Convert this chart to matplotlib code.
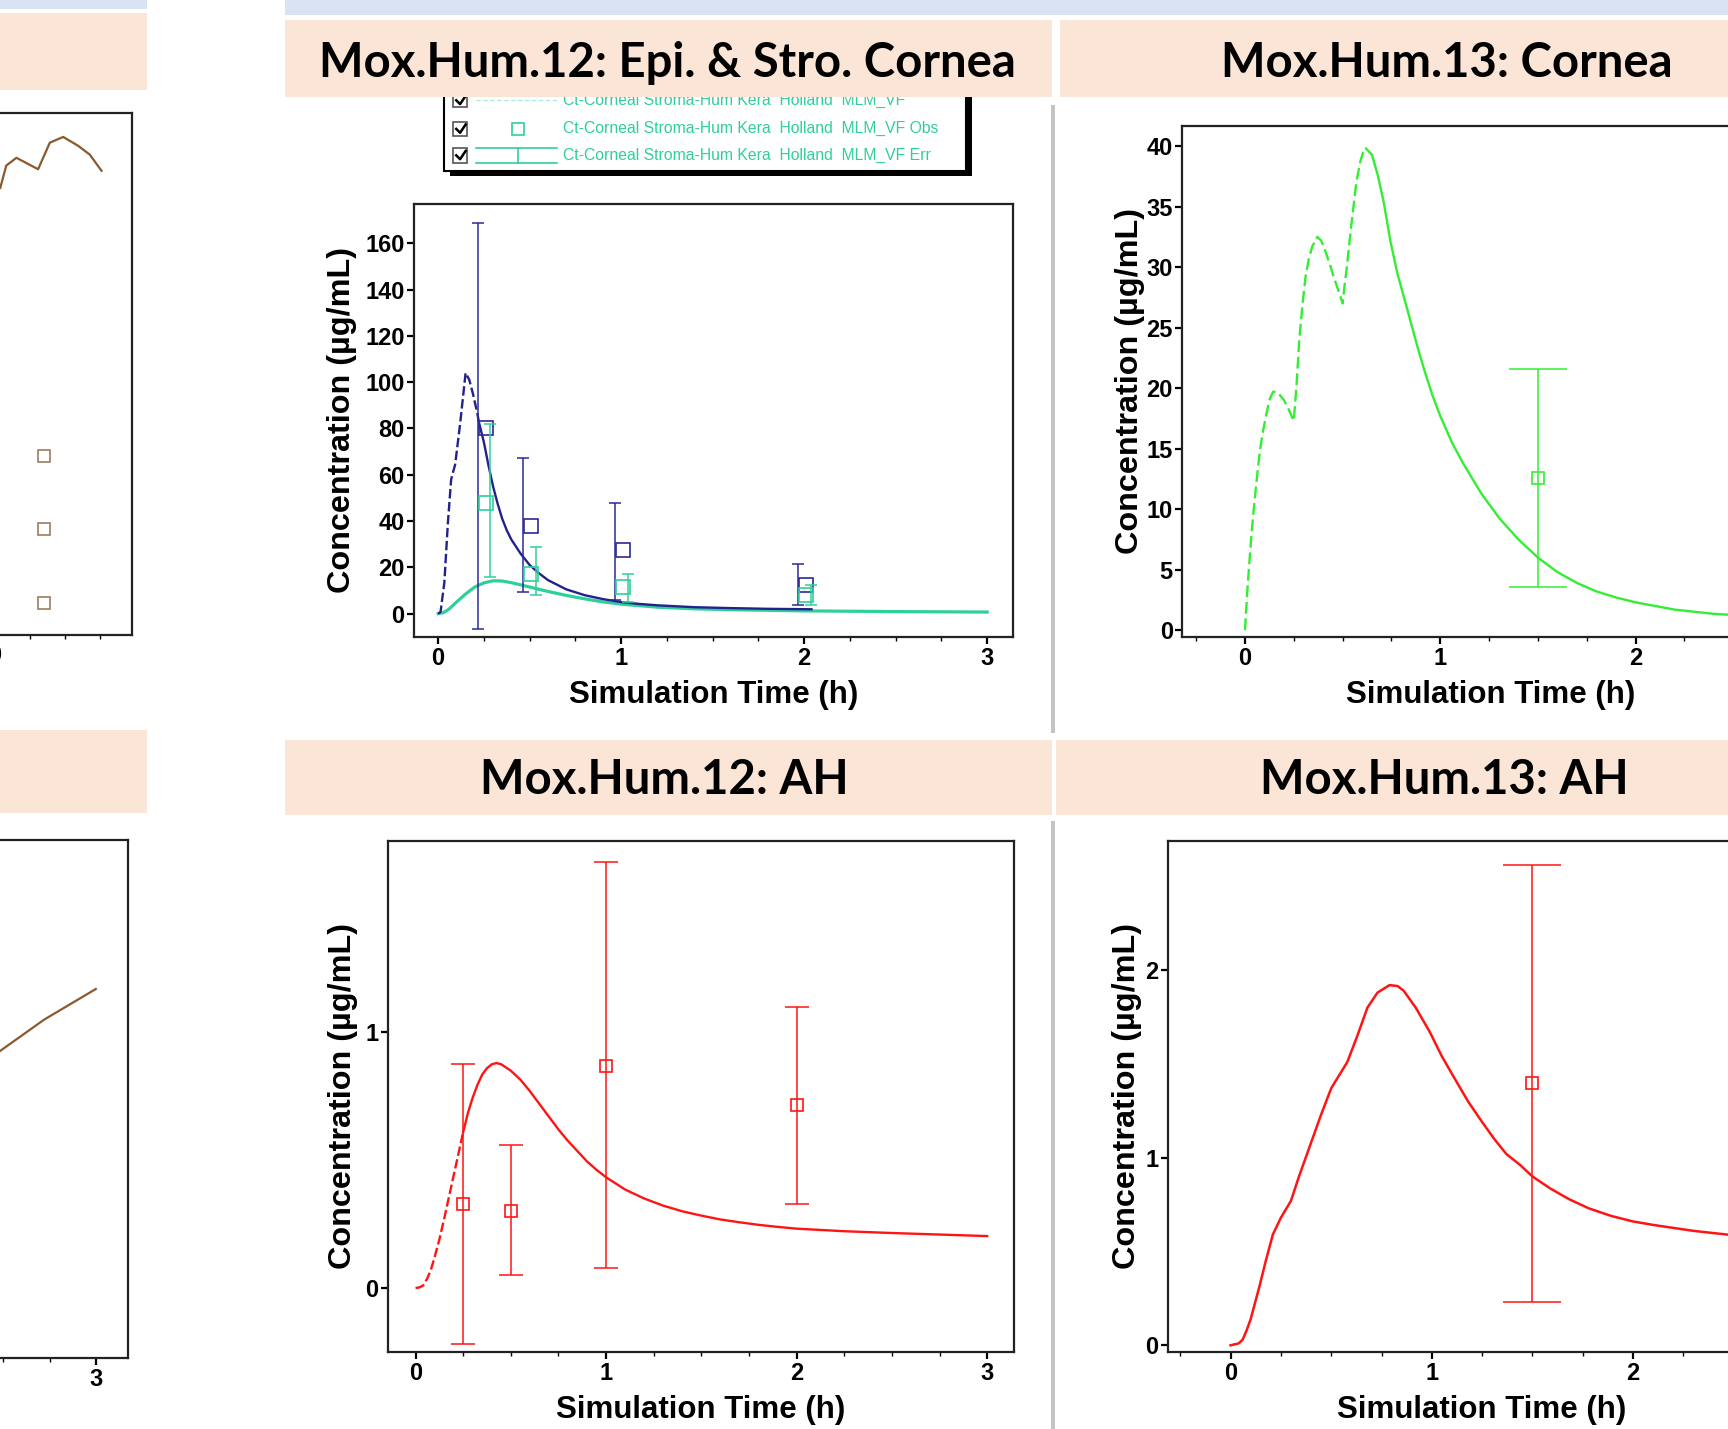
import numpy as np
import matplotlib
matplotlib.use('Agg')
import matplotlib.pyplot as plt
from matplotlib import font_manager
from matplotlib.patches import Rectangle
from matplotlib.ticker import MultipleLocator

names = {f.name for f in font_manager.fontManager.ttflist}
NARROW = 'Liberation Sans Narrow' if 'Liberation Sans Narrow' in names else 'Liberation Sans'
TITLE = 'Lato' if 'Lato' in names else 'DejaVu Sans'
plt.rcParams['font.family'] = ['Liberation Sans', 'DejaVu Sans']

# ---------------- data ----------------
# Mox.Hum.12 cornea: epithelium (navy) and stroma (teal), simulated
t12_epi = [0, 0.013, 0.034, 0.053, 0.071, 0.093, 0.12, 0.15, 0.17, 0.19, 0.21, 0.225, 0.25,
           0.275, 0.3, 0.325, 0.35, 0.375, 0.4, 0.45, 0.5, 0.55, 0.6, 0.7, 0.8, 0.9, 1.0,
           1.1, 1.2, 1.4, 1.6, 1.8, 2.04]
c12_epi = [0, 0.7, 13.6, 39, 58, 64.5, 82, 104, 101, 95, 88, 82, 74, 64, 55, 47.5, 41, 36,
           32, 26, 21, 17.5, 14.5, 10.5, 8, 6.3, 5.0, 4.2, 3.6, 2.8, 2.4, 2.1, 1.9]
t12_str = [0, 0.03, 0.06, 0.1, 0.15, 0.2, 0.25, 0.3, 0.35, 0.4, 0.5, 0.6, 0.7, 0.8, 0.9,
           1.0, 1.2, 1.4, 1.6, 2.0, 2.5, 3.0]
c12_str = [0, 0.5, 2, 5, 8.5, 11.5, 13.3, 14.2, 14.1, 13.4, 11.5, 9.6, 7.9, 6.4, 5.1, 4.1,
           2.8, 2.1, 1.7, 1.2, 0.9, 0.7]
# observed
obs_t12 = [0.25, 0.5, 1.0, 2.0]
epi_obs = [80, 38, 27.3, 12.2]
epi_lo = [-6.5, 9.3, 6, 3.6]
epi_hi = [168.6, 67.4, 48, 21.5]
str_obs = [48, 17.2, 11.5, 7.9]
str_lo = [15.8, 8, 5, 3.6]
str_hi = [81.8, 28.7, 17.2, 12.2]

# Mox.Hum.13 cornea
t13_cor = [0, 0.011, 0.022, 0.033, 0.045, 0.056, 0.067, 0.078, 0.094, 0.11, 0.127, 0.144,
           0.16, 0.18, 0.2, 0.225, 0.25, 0.265, 0.278, 0.295, 0.31, 0.327, 0.344, 0.37, 0.39,
           0.41, 0.435, 0.456, 0.48, 0.5, 0.51, 0.52, 0.532, 0.544, 0.557, 0.57, 0.59, 0.605,
           0.62, 0.65, 0.68, 0.71, 0.744, 0.78, 0.833, 0.88, 0.92, 0.96, 1.0, 1.06, 1.12,
           1.21, 1.3, 1.4, 1.5, 1.6, 1.7, 1.8, 1.9, 2.0, 2.2, 2.4, 2.6, 2.8, 3.0]
c13_cor = [0, 3, 5.5, 7.9, 10, 11.8, 13.5, 15, 16.6, 17.9, 19.1, 19.7, 19.7, 19.4, 19, 18.2,
           17.3, 20.5, 24, 27, 29.2, 30.7, 31.7, 32.5, 32.2, 31.4, 30.2, 29.1, 28, 27, 28.5,
           29.8, 31.6, 33.4, 35.2, 37, 38.7, 39.5, 39.8, 39.3, 37.6, 35.4, 32.2, 29.5, 26.4,
           23.6, 21.4, 19.4, 17.7, 15.5, 13.7, 11.3, 9.3, 7.5, 6.0, 4.8, 3.9, 3.2, 2.7, 2.3,
           1.7, 1.35, 1.15, 1.0, 0.9]
obs_t13 = [1.5]
cor13_obs = [12.6]
cor13_lo = [3.6]
cor13_hi = [21.6]

# Mox.Hum.12 aqueous humor
t12_ah = [0, 0.02, 0.04, 0.06, 0.08, 0.1, 0.125, 0.15, 0.175, 0.2, 0.225, 0.25, 0.275, 0.3,
          0.325, 0.35, 0.375, 0.4, 0.425, 0.45, 0.5, 0.55, 0.6, 0.65, 0.7, 0.75, 0.8, 0.85,
          0.9, 0.95, 1.0, 1.1, 1.2, 1.3, 1.4, 1.5, 1.6, 1.7, 1.8, 1.9, 2.0, 2.25, 2.5, 2.75,
          3.0]
c12_ah = [0, 0.002, 0.01, 0.035, 0.07, 0.12, 0.19, 0.27, 0.355, 0.44, 0.525, 0.61, 0.685,
          0.745, 0.795, 0.835, 0.86, 0.875, 0.88, 0.875, 0.85, 0.815, 0.77, 0.72, 0.67, 0.62,
          0.575, 0.535, 0.495, 0.462, 0.433, 0.385, 0.35, 0.322, 0.3, 0.283, 0.268, 0.257,
          0.247, 0.239, 0.232, 0.222, 0.215, 0.209, 0.203]
ah12_obs = [0.33, 0.30, 0.87, 0.715]
ah12_lo = [-0.22, 0.05, 0.08, 0.33]
ah12_hi = [0.875, 0.56, 1.665, 1.10]

# Mox.Hum.13 aqueous humor
t13_ah = [0, 0.04, 0.06, 0.08, 0.1, 0.12, 0.145, 0.175, 0.21, 0.25, 0.3, 0.34, 0.38, 0.42,
          0.45, 0.5, 0.54, 0.58, 0.63, 0.68, 0.73, 0.79, 0.83, 0.86, 0.92, 0.99, 1.05, 1.12,
          1.18, 1.25, 1.31, 1.37, 1.44, 1.5, 1.59, 1.68, 1.78, 1.89, 2.0, 2.11, 2.3, 2.47,
          2.7, 3.0]
c13_ah = [0, 0.01, 0.03, 0.08, 0.14, 0.22, 0.32, 0.45, 0.59, 0.68, 0.77, 0.9, 1.02, 1.14,
          1.23, 1.37, 1.44, 1.51, 1.65, 1.80, 1.88, 1.92, 1.915, 1.89, 1.80, 1.67, 1.54, 1.41,
          1.30, 1.19, 1.10, 1.02, 0.96, 0.90, 0.835, 0.78, 0.73, 0.69, 0.66, 0.64, 0.61, 0.59,
          0.57, 0.55]
ah13_obs = [1.40]
ah13_lo = [0.23]
ah13_hi = [2.56]

# partly visible panels on the far left (no y scale visible -> 0..100 of the frame)
tl_t = [0.04, 0.083, 0.155, 0.309, 0.392, 0.487, 0.593, 0.676, 0.759]
tl_c = [85.7, 90.0, 91.5, 89.3, 94.4, 95.5, 93.8, 92.1, 89.0]
tl_obs_t = [0.352, 0.352, 0.352]
tl_obs_c = [34.2, 20.3, 6.0]
bl_t = [2.461, 2.721, 3.0]
bl_c = [58.7, 65.3, 71.2]

legend_labels = ['Ct-Corneal Stroma-Hum Kera  Holland  MLM_VF',
                 'Ct-Corneal Stroma-Hum Kera  Holland  MLM_VF Obs',
                 'Ct-Corneal Stroma-Hum Kera  Holland  MLM_VF Err']

# ---------------- styling ----------------
NAVY = '#22228a'
TEAL = '#2fcf9c'
LIME = '#33ee33'
RED = '#ff1414'
BROWN = '#8a5a2e'
PEACH = '#fbe5d6'
STRIP = '#dae3f3'

W, H = 1568, 1297  # layout measured on the reference in these units


def box(x0, y0, x1, y1):
    return [x0 / W, 1 - y1 / H, (x1 - x0) / W, (y1 - y0) / H]


fig = plt.figure(figsize=(17.28, 14.29), dpi=100)


def frame_rect(x0, y0, x1, y1, color, z=5):
    fig.add_artist(Rectangle((x0 / W, 1 - y1 / H), (x1 - x0) / W, (y1 - y0) / H,
                             transform=fig.transFigure, facecolor=color,
                             edgecolor='none', zorder=z))


def panel(rect, xlim, ylim, yticks, xticks=(0, 1, 2, 3)):
    ax = fig.add_axes(box(*rect))
    ax.set_xticks(xticks)
    ax.set_yticks(yticks)
    ax.set_xlim(xlim)
    ax.set_ylim(ylim)
    ax.xaxis.set_minor_locator(MultipleLocator(0.25))
    ax.tick_params(which='major', direction='out', length=5, width=1.6, labelsize=17, pad=2)
    ax.tick_params(which='minor', direction='out', length=3, width=1)
    for s in ax.spines.values():
        s.set_linewidth(1.6)
        s.set_color('#222222')
    for lbl in ax.get_xticklabels() + ax.get_yticklabels():
        lbl.set_fontfamily(NARROW)
        lbl.set_fontweight('bold')
    return ax


def labels(ax, yx, xy):
    ax.set_xlabel('Simulation Time (h)', fontsize=22.5, fontweight='bold')
    ax.set_ylabel('Concentration (µg/mL)', fontsize=23.3, fontweight='bold')
    ax.xaxis.set_label_coords(0.5, xy)
    ax.yaxis.set_label_coords(yx, 0.5)


def split_line(ax, t, c, t_dash, color, dashes, lw=1.7):
    t = np.asarray(t)
    c = np.asarray(c)
    m1 = t <= t_dash
    m2 = t >= t_dash
    ax.plot(t[m1], c[m1], color=color, lw=lw, dashes=dashes)
    ax.plot(t[m2], c[m2], color=color, lw=lw)


def obs(ax, t, c, lo, hi, color, cap, bar_dx=0.0, sq_dx=0.0, ms=9):
    t = np.asarray(t, float)
    c = np.asarray(c, float)
    err = [c - np.asarray(lo), np.asarray(hi) - c]
    ax.errorbar(t + bar_dx, c, yerr=err, fmt='none', ecolor=color, elinewidth=1.1,
                capsize=cap, capthick=1.1)
    ax.plot(t + sq_dx, c, 's', mfc='none', mec=color, ms=ms, mew=1.2)


# ---------------- background decorations ----------------
frame_rect(0, 0, 133, 8, STRIP)
frame_rect(259, 0, 1568, 14, STRIP)
frame_rect(0, 12, 133, 82, PEACH)
frame_rect(259, 18, 955, 88, PEACH)
frame_rect(962, 18, 1670, 88, PEACH)
frame_rect(0, 663, 133, 738, PEACH)
frame_rect(259, 672, 955, 740, PEACH)
frame_rect(958, 672, 1670, 740, PEACH)
frame_rect(954, 95, 957, 665, '#c4c4c4')
frame_rect(954, 745, 957, 1297, '#c4c4c4')

title_kw = dict(ha='center', va='center', fontsize=34, fontweight='bold', family=TITLE, zorder=6)
fig.text(606 / W, 1 - 57 / H, 'Mox.Hum.12: Epi. & Stro. Cornea', **title_kw)
fig.text(1313 / W, 1 - 57 / H, 'Mox.Hum.13: Cornea', **title_kw)
fig.text(603 / W, 1 - 708 / H, 'Mox.Hum.12: AH', **title_kw)
fig.text(1311 / W, 1 - 708 / H, 'Mox.Hum.13: AH', **title_kw)

# ---------------- far-left partial panels ----------------
axl = panel((-400, 103, 120, 576), (-3.09, 0.977), (0, 100), [], xticks=[0])
axl.plot(tl_t, tl_c, color=BROWN, lw=1.6)
axl.plot(tl_obs_t, tl_obs_c, 's', mfc='none', mec='#9a7b5c', ms=9, mew=1.2)

axb = panel((-450, 762, 116, 1233), (-0.196, 3.173), (0, 100), [], xticks=[3])
axb.plot(bl_t, bl_c, color=BROWN, lw=1.6)

# ---------------- Mox.Hum.12 cornea ----------------
ax1 = panel((376, 185, 919, 578), (-0.13, 3.14), (-10, 177), range(0, 161, 20))
ax1.plot(t12_str, c12_str, color=TEAL, lw=2.3)
split_line(ax1, t12_epi, c12_epi, 0.225, NAVY, (4, 1.5))
obs(ax1, obs_t12, epi_obs, epi_lo, epi_hi, '#2a2a98', 4.5, bar_dx=-0.035, sq_dx=0.01, ms=10)
obs(ax1, obs_t12, str_obs, str_lo, str_hi, TEAL, 4.5, bar_dx=0.035, sq_dx=0.01, ms=10)
labels(ax1, -0.096, -0.099)

# ---------------- Mox.Hum.13 cornea ----------------
ax2 = panel((1073, 114, 1633, 578), (-0.32, 2.84), (-0.55, 41.7), range(0, 41, 5))
split_line(ax2, t13_cor, c13_cor, 0.62, LIME, (5, 2))
obs(ax2, obs_t13, cor13_obs, cor13_lo, cor13_hi, LIME, 21, ms=8)
labels(ax2, -0.061, -0.084)

# ---------------- Mox.Hum.12 AH ----------------
ax3 = panel((352, 763, 920, 1227), (-0.145, 3.14), (-0.25, 1.75), [0, 1])
split_line(ax3, t12_ah, c12_ah, 0.25, RED, (4, 1.5))
obs(ax3, obs_t12, ah12_obs, ah12_lo, ah12_hi, RED, 8.5, ms=8)
labels(ax3, -0.048, -0.084)

# ---------------- Mox.Hum.13 AH ----------------
ax4 = panel((1060, 763, 1628, 1227), (-0.31, 2.80), (-0.035, 2.69), [0, 1, 2])
ax4.plot(t13_ah, c13_ah, color=RED, lw=1.8)
obs(ax4, obs_t13, ah13_obs, ah13_lo, ah13_hi, RED, 21, ms=8)
labels(ax4, -0.042, -0.084)

# ---------------- legend window (partly under the header) ----------------
lg = fig.add_axes(box(398, 78, 888, 164))
lg.set_xlim(398, 888)
lg.set_ylim(164, 78)
lg.axis('off')
lg.add_patch(Rectangle((408, 84), 474, 76, facecolor='black'))
lg.add_patch(Rectangle((403, 79), 474, 76, facecolor='white', edgecolor='black', lw=1.5))
rows_y = [91, 117, 141]
for y, text in zip(rows_y, legend_labels):
    lg.add_patch(Rectangle((411, y - 6.5), 13, 13, facecolor='white', edgecolor='#555555', lw=1.2))
    lg.plot([414, 417.5, 422.5], [y, y + 3.5, y - 4], color='black', lw=1.8)
    lg.text(511, y, text, color=TEAL, fontsize=11.3, family=NARROW, va='center', ha='left')
lg.plot([432, 505], [91, 91], color=TEAL, lw=1, dashes=(3, 2), alpha=0.4)
lg.plot([470], [117], 's', mfc='none', mec=TEAL, ms=8, mew=1.2)
lg.plot([432, 505], [134, 134], color=TEAL, lw=1.2)
lg.plot([432, 505], [148, 148], color=TEAL, lw=1.2)
lg.plot([470, 470], [134, 148], color=TEAL, lw=1.2)

fig.savefig('out.png', dpi=100)
